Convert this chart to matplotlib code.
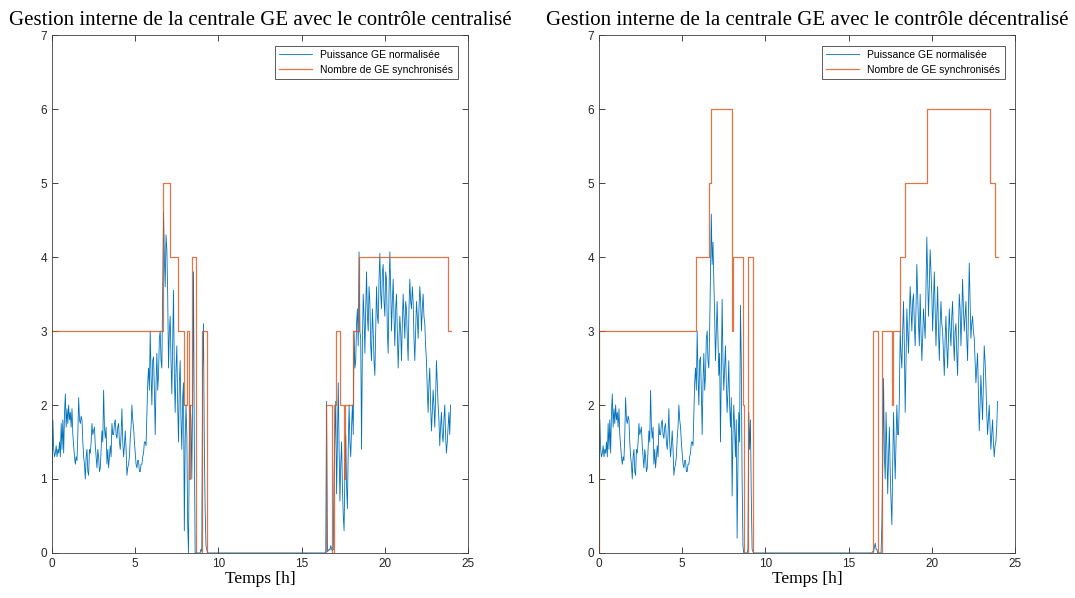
import numpy as np
import matplotlib.pyplot as plt

# Data: normalised GE power, sampled every 0.05 h
blue_morning = [0.75, 1.8, 1.4, 1.3, 1.35, 1.45, 1.3, 1.4, 1.35, 1.5,
                1.3, 1.75, 1.4, 1.8, 1.35, 1.9, 2.15, 1.7, 1.95, 1.75,
                2.0, 1.8, 1.9, 1.7, 1.95, 1.6, 1.45, 1.3, 1.2, 1.3,
                1.25, 1.6, 2.1, 1.8, 1.75, 1.85, 1.8, 1.5, 1.3, 1.2,
                1.0, 1.3, 1.4, 1.1, 1.05, 1.4, 1.35, 1.5, 1.75, 1.6,
                1.65, 1.7, 1.45, 1.3, 1.15, 1.4, 1.3, 1.1, 1.15, 1.4,
                1.65, 1.5, 2.2, 1.7, 1.55, 1.7, 1.2, 1.4, 1.15, 1.3,
                1.45, 1.3, 1.75, 1.6, 1.6, 1.75, 1.8, 1.6, 1.55, 1.7,
                1.75, 1.5, 1.4, 1.6, 1.95, 1.5, 1.3, 1.45, 1.65, 1.4,
                1.05, 1.15, 1.2, 1.3, 1.55, 1.7, 2.0, 1.8, 1.7, 1.5,
                1.35, 1.2, 1.15, 1.25, 1.25, 1.1, 1.1, 1.2, 1.2, 1.3,
                1.35, 1.5, 1.5, 1.45, 1.9, 2.3, 2.5, 2.2, 3.0, 2.4,
                2.0, 2.6, 2.65, 2.2, 1.6, 2.3, 2.7, 2.2, 2.4, 2.9,
                3.0, 2.6, 2.5]

blue_c_day = [3.6, 4.6, 4.0, 3.6, 4.3, 4.1, 3.5, 2.5, 3.0, 3.2,
              2.6, 2.15, 2.9, 3.55, 2.4, 1.9, 2.5, 2.8, 2.0, 1.5,
              2.3, 2.6, 1.8, 1.4, 2.1, 2.3, 0.3, 1.5, 2.0, 1.6,
              0.4, 0.0, 1.5, 2.0, 1.8, 1.0, 2.1, 3.8, 1.5, 0.0,
              0.0, 0.0, 0.0, 0.0, 0.0, 0.0, 0.05, 0.02, 2.5, 3.1,
              1.5, 0.6, 0.1, 0.05]
blue_c_evening = [0.02, 2.05, 0.02, 0.03, 0.05, 0.04, 0.1, 0.05, 0.03, 0.05,
                  1.1, 1.6, 2.05, 0.8, 1.5, 2.3, 1.4, 0.7, 1.2, 1.5,
                  0.9, 0.5, 0.3, 1.1, 1.6, 0.9, 0.6, 1.4, 2.0, 1.5,
                  1.3, 1.7, 2.0, 1.6, 3.0, 2.5, 2.6, 3.1, 3.3, 2.8,
                  4.07, 3.0, 2.9, 1.4, 2.8, 3.5, 3.2, 2.7, 3.3, 3.8,
                  3.2, 3.0, 3.6, 3.4, 2.8, 2.6, 3.3, 3.0, 2.6, 2.4,
                  3.0, 3.6, 3.2, 3.1, 3.7, 4.05, 3.5, 3.3, 3.8, 3.9,
                  3.4, 3.2, 3.8, 3.7, 3.0, 2.7, 3.5, 4.07, 3.6, 3.0,
                  3.4, 3.7, 3.2, 2.8, 3.3, 3.5, 3.0, 2.5, 2.9, 3.2,
                  3.0, 2.6, 3.1, 3.5, 3.2, 2.9, 3.4, 3.3, 2.9, 2.6,
                  3.3, 3.7, 3.4, 3.3, 3.6, 3.4, 2.9, 2.6, 3.0, 3.4,
                  3.2, 2.9, 3.3, 3.6, 3.4, 3.0, 3.3, 3.5, 3.2, 3.1,
                  2.8, 2.6, 2.2, 1.9, 2.3, 2.5, 2.0, 1.65, 1.9, 2.2,
                  2.0, 1.7, 2.1, 2.6, 2.3, 2.0, 1.8, 1.45, 1.7, 1.9,
                  1.6, 1.5, 1.8, 2.0, 1.6, 1.35, 1.5, 1.7, 1.9, 1.6,
                  2.0]

blue_d_day = [3.0, 3.8, 4.58, 3.9, 4.2, 3.7, 3.2, 2.6, 3.0, 3.4,
              2.9, 2.4, 2.7, 1.5, 2.5, 3.43, 2.6, 2.2, 2.5, 2.8,
              2.3, 1.9, 2.2, 2.6, 2.0, 1.7, 2.1, 0.77, 1.6, 2.0,
              1.7, 1.3, 1.8, 0.2, 1.2, 1.9, 1.5, 3.35, 2.6, 1.0,
              0.1, 0.0, 0.0, 0.0, 0.0, 0.0, 0.05, 1.9, 1.4, 1.8,
              0.8, 0.05, 0.02]
blue_d_evening = [0.02, 0.02, 0.08, 0.13, 0.05, 0.05, 0.0, 0.0, 0.0, 0.0,
                  0.0, 0.4, 1.2, 2.36, 1.3, 1.0, 1.9, 1.4, 0.8, 1.3,
                  1.7, 1.1, 0.7, 0.38, 1.2, 1.9, 1.4, 1.0, 1.5, 2.0,
                  1.6, 1.6, 2.1, 3.0, 2.7, 2.5, 3.0, 3.4, 2.8, 1.9,
                  2.6, 3.3, 3.0, 2.7, 3.2, 3.6, 3.3, 3.0, 3.4, 3.5,
                  3.1, 2.8, 3.3, 3.9, 3.5, 3.1, 2.8, 3.5, 3.0, 2.6,
                  2.9, 3.3, 3.1, 2.9, 3.6, 4.27, 3.7, 3.2, 3.6, 4.1,
                  3.8, 3.5, 3.0, 3.4, 3.8, 3.3, 2.8, 3.2, 3.6, 3.0,
                  2.6, 3.1, 3.4, 3.1, 3.0, 2.7, 2.4, 2.9, 3.2, 2.8,
                  2.5, 2.9, 3.3, 3.0, 2.8, 3.2, 3.4, 2.9, 2.6, 3.0,
                  3.1, 2.7, 2.4, 3.0, 3.5, 3.3, 2.8, 3.2, 3.7, 3.3,
                  3.0, 3.2, 3.4, 2.9, 2.6, 3.3, 3.92, 3.4, 2.9, 3.1,
                  3.2, 3.0, 2.9, 2.6, 2.3, 2.5, 2.7, 2.2, 1.65, 2.0,
                  2.4, 2.1, 1.8, 2.3, 2.8, 2.6, 2.3, 1.9, 1.6, 1.8,
                  2.0, 1.7, 1.4, 1.6, 1.8, 1.5, 1.3, 1.45, 1.5, 1.7,
                  2.05]

blue_central = blue_morning + blue_c_day + [0.0] * 142 + blue_c_evening
blue_decentral = blue_morning + blue_d_day + [0.0] * 143 + blue_d_evening

# Number of synchronised generators (step changes)
ge_c_times = [0, 6.65, 7.11, 7.59, 7.95, 8.09, 8.23, 8.27, 8.43, 8.63, 9.01, 9.31,
              16.47, 16.81, 16.95, 17.05, 17.31, 17.55, 17.62, 18.11, 18.43, 23.78, 23.96]
ge_c_levels = [3, 5, 4, 3, 2, 3, 1, 2, 4, 0, 3, 0,
               2, 0, 2, 3, 2, 1, 2, 3, 4, 3, 3]

ge_d_times = [0, 0.02, 5.83, 6.64, 6.74, 7.98, 8.04, 8.64, 8.7, 8.97, 9.28,
              16.49, 16.77, 17.01, 17.58, 17.67, 18.11, 18.39, 19.73, 23.5, 23.8, 24.0]
ge_d_levels = [0, 3, 4, 5, 6, 3, 4, 2, 0, 4, 0,
               3, 0, 3, 2, 3, 4, 5, 6, 5, 4, 4]

titles = ['Gestion interne de la centrale GE avec le contrôle centralisé',
          'Gestion interne de la centrale GE avec le contrôle décentralisé']

fig = plt.figure(figsize=(10.75, 5.98), dpi=100)
ax1 = fig.add_axes([0.0484, 0.0753, 0.387, 0.866])
ax2 = fig.add_axes([0.5572, 0.0753, 0.387, 0.866])

panels = [(ax1, blue_central, ge_c_times, ge_c_levels, titles[0]),
          (ax2, blue_decentral, ge_d_times, ge_d_levels, titles[1])]

for ax, blue, tt, lv, title in panels:
    t = np.arange(len(blue)) * 0.05
    ax.plot(t, blue, color='#0072BD', lw=0.6, label='Puissance GE normalisée')
    ax.step(tt, lv, where='post', color='#D95319', lw=0.9, alpha=0.8,
            label='Nombre de GE synchronisés')
    ax.set_xlim(0, 25)
    ax.set_ylim(0, 7)
    ax.set_xticks([0, 5, 10, 15, 20, 25])
    ax.set_yticks(range(8))
    ax.tick_params(direction='in', top=True, right=True, length=4, width=0.6,
                   labelsize=8.5, colors='#262626')
    for lab in ax.get_xticklabels() + ax.get_yticklabels():
        lab.set_family('Liberation Sans')
    for s in ax.spines.values():
        s.set_linewidth(0.6)
        s.set_color('#404040')
    ax.set_title(title, family='Liberation Serif', fontsize=15, pad=7)
    ax.set_xlabel('Temps [h]', family='Liberation Serif', fontsize=12.5, labelpad=1)
    leg = ax.legend(loc='upper right', prop={'family': 'Liberation Sans', 'size': 7.5},
                    fancybox=False, framealpha=1, edgecolor='#404040',
                    handlelength=3.2, borderaxespad=1.0)
    leg.get_frame().set_linewidth(0.6)

plt.savefig('out.png')
